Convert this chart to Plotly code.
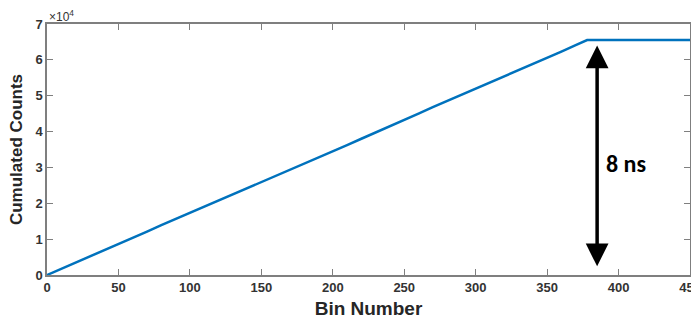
import plotly.graph_objects as go

bins = [0, 10, 20, 30, 40, 50, 60, 70, 80, 90, 100, 110, 120, 130, 140, 150, 160, 170,
        180, 190, 200, 210, 220, 230, 240, 250, 260, 270, 280, 290, 300, 310, 320, 330,
        340, 350, 360, 370, 378, 390, 400, 410, 420, 430, 440, 450]
counts = [0, 1700, 3450, 5150, 6900, 8600, 10400, 12100, 13900, 15600, 17300, 19000,
          20700, 22500, 24200, 26000, 27700, 29400, 31100, 32800, 34500, 36200, 38000,
          39700, 41400, 43200, 45000, 46800, 48500, 50200, 51900, 53600, 55300, 57000,
          58800, 60500, 62300, 64100, 65536, 65536, 65536, 65536, 65536, 65536, 65536, 65536]

x_ticks = [0, 50, 100, 150, 200, 250, 300, 350, 400, 450]
y_ticks = [0, 10000, 20000, 30000, 40000, 50000, 60000, 70000]
y_tick_text = ["0", "1", "2", "3", "4", "5", "6", "7"]

arrow_x = 385
arrow_top = 64000
arrow_bottom = 2000

axis_color = "#7f7f7f"
tick_font = dict(family="Liberation Sans, Arial", size=13, color="#333333", weight="bold")

fig = go.Figure()
fig.add_trace(go.Scatter(x=bins, y=counts, mode="lines",
                         line=dict(color="#0072BD", width=2.5), showlegend=False))

fig.update_layout(
    width=691, height=330,
    margin=dict(l=47, r=1, t=24, b=55, autoexpand=False),
    paper_bgcolor="white", plot_bgcolor="white",
    xaxis=dict(range=[0, 450], tickvals=x_ticks, ticks="inside", ticklen=6,
               tickcolor=axis_color, showline=True, linecolor=axis_color, linewidth=1.5,
               mirror="ticks", showgrid=False, zeroline=False, tickfont=tick_font,
               ticklabeloverflow="allow", automargin=False,
               title=dict(text="Bin Number", standoff=7,
                          font=dict(family="Liberation Sans, Arial", size=19,
                                    color="#262626", weight="bold"))),
    yaxis=dict(range=[0, 70000], tickvals=y_ticks, ticktext=y_tick_text, ticks="inside",
               ticklen=6, tickcolor=axis_color, showline=True, linecolor=axis_color,
               linewidth=1.5, mirror="ticks", showgrid=False, zeroline=False,
               tickfont=tick_font, ticklabeloverflow="allow", automargin=False,
               title=dict(text="Cumulated Counts", standoff=8,
                          font=dict(family="Liberation Sans, Arial", size=17,
                                    color="#262626", weight="bold"))),
)

fig.add_annotation(x=0, y=1, xref="paper", yref="paper", xanchor="left", yanchor="bottom",
                   text="×10<sup>4</sup>", showarrow=False, xshift=0, yshift=-2,
                   font=dict(family="Liberation Sans, Arial", size=12, color="#333333"))

fig.add_annotation(x=arrow_x, y=arrow_top, ax=arrow_x, ay=arrow_bottom,
                   xref="x", yref="y", axref="x", ayref="y", text="",
                   showarrow=True, arrowhead=2, arrowside="end+start",
                   arrowsize=1.3, arrowwidth=3.5, arrowcolor="black")

fig.add_annotation(x=arrow_x, y=31000, xref="x", yref="y", xanchor="left",
                   text="<b>8 ns</b>", showarrow=False, xshift=7,
                   font=dict(family="Carlito, Calibri, Liberation Sans", size=24, color="black"))

fig.write_html("out.html")
